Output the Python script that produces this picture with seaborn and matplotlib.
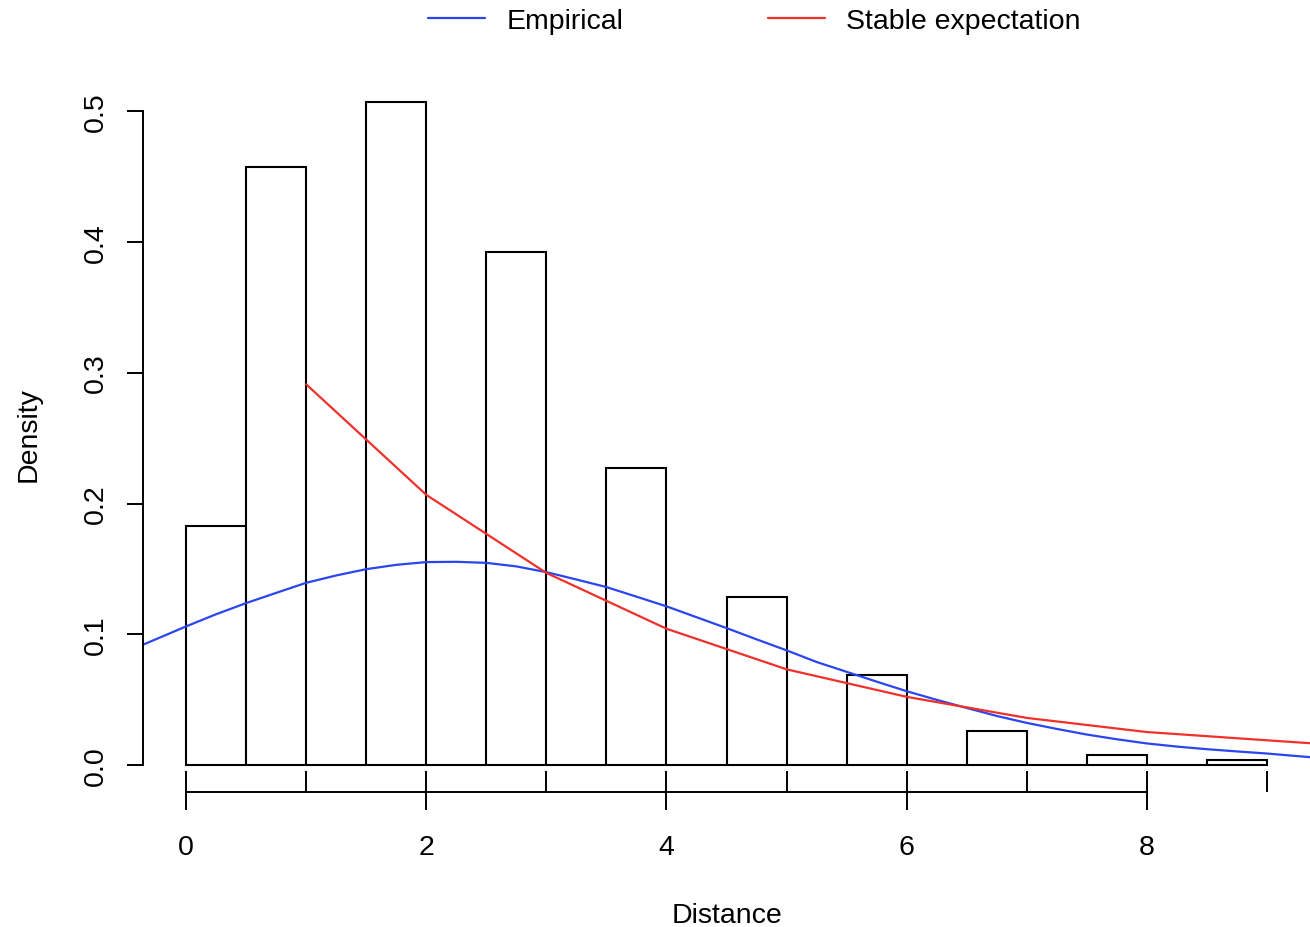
import numpy as np
import pandas as pd
import seaborn as sns
import matplotlib.pyplot as plt

# histogram bins (width 0.5) and density
bin_edges = [0, 0.5, 1, 1.5, 2, 2.5, 3, 3.5, 4, 4.5, 5, 5.5, 6, 6.5, 7, 7.5, 8, 8.5, 9]
bin_density = [0.183, 0.457, 0, 0.507, 0, 0.392, 0, 0.227, 0, 0.129,
               0, 0.069, 0, 0.026, 0, 0.008, 0, 0.004]

# empirical density curve (blue)
emp_x = [-0.36, 0, 0.25, 0.5, 0.75, 1, 1.25, 1.5, 1.75, 2, 2.25, 2.5, 2.75,
         3, 3.25, 3.5, 3.75, 4, 4.25, 4.5, 4.75, 5, 5.25, 5.5, 5.75,
         6, 6.25, 6.5, 6.75, 7, 7.25, 7.5, 7.75, 8, 8.25, 8.5, 8.75, 9, 9.36]
emp_y = [0.0922, 0.1062, 0.1155, 0.124, 0.1318, 0.1395, 0.1451, 0.1499, 0.1532,
         0.1553, 0.1555, 0.1547, 0.152, 0.1476, 0.142, 0.1362, 0.1289, 0.1215,
         0.1132, 0.1049, 0.0963, 0.0879, 0.079, 0.0715, 0.064, 0.0567, 0.0501,
         0.0439, 0.0378, 0.0325, 0.0279, 0.0236, 0.0200, 0.0168, 0.0144,
         0.0124, 0.0107, 0.0091, 0.0063]

# stable expectation (red), sampled at integer distances
stab_x = [1, 2, 3, 4, 5, 6, 7, 8, 9, 10]
stab_y = [0.291, 0.2066, 0.147, 0.1044, 0.0734, 0.0524, 0.0363, 0.0255, 0.0192, 0.013]

sns.set_style("ticks")
plt.rcParams['font.family'] = ['Liberation Sans', 'DejaVu Sans']
plt.rcParams['font.size'] = 20.5
plt.rcParams['text.color'] = 'black'
plt.rcParams['axes.labelcolor'] = 'black'
plt.rcParams['xtick.color'] = 'black'
plt.rcParams['ytick.color'] = 'black'

fig = plt.figure(figsize=(13.1, 9.28), dpi=100)
ax = fig.add_axes([143 / 1310, 1 - 793 / 928, 1 - 143 / 1310, 717 / 928])

mids = [(a + b) / 2 for a, b in zip(bin_edges[:-1], bin_edges[1:])]
sns.histplot(x=mids, weights=bin_density, bins=bin_edges, stat='count',
             color='white', edgecolor='black', linewidth=1.5, alpha=1, ax=ax)

sns.lineplot(x=emp_x, y=emp_y, color='#2b45f0', linewidth=1.6, label='Empirical', ax=ax)
sns.lineplot(x=stab_x, y=stab_y, color='#f0302a', linewidth=1.6,
             label='Stable expectation', ax=ax)

ax.set_xlim(-0.36, 9.36)
ax.set_ylim(-0.0203, 0.5273)

sns.despine(ax=ax)
ax.spines['left'].set_bounds(0, 0.5)
ax.spines['bottom'].set_bounds(0, 8)
for s in ['left', 'bottom']:
    ax.spines[s].set_linewidth(1.4)
    ax.spines[s].set_color('black')

ax.set_xticks([0, 2, 4, 6, 8])
ax.set_xticks(range(0, 10), minor=True)
ax.xaxis.remove_overlapping_locs = False
ax.set_yticks([0, 0.1, 0.2, 0.3, 0.4, 0.5])
ax.set_yticklabels(['0.0', '0.1', '0.2', '0.3', '0.4', '0.5'])

ax.tick_params(axis='x', which='major', direction='out', length=13, width=1.4,
               pad=17, labelsize=20.5)
ax.tick_params(axis='x', which='minor', direction='in', length=15, width=1.4)
ax.tick_params(axis='y', direction='out', length=11.5, width=1.4, pad=13,
               labelsize=20.5, labelrotation=90)
for lab in ax.get_yticklabels():
    lab.set_va('center')

ax.set_xlabel('Distance', fontsize=20.5)
ax.set_ylabel('Density', fontsize=20.5)
ax.xaxis.set_label_coords(0.5, -0.153)
ax.yaxis.set_label_coords(-0.087, 0.5)

ax.legend(loc='center', bbox_to_anchor=(0.576, 0.976), bbox_transform=fig.transFigure,
          ncol=2, frameon=False, handlelength=2.0, handletextpad=0.74,
          columnspacing=5.1, fontsize=20.5)

fig.savefig('out.png', dpi=100)
